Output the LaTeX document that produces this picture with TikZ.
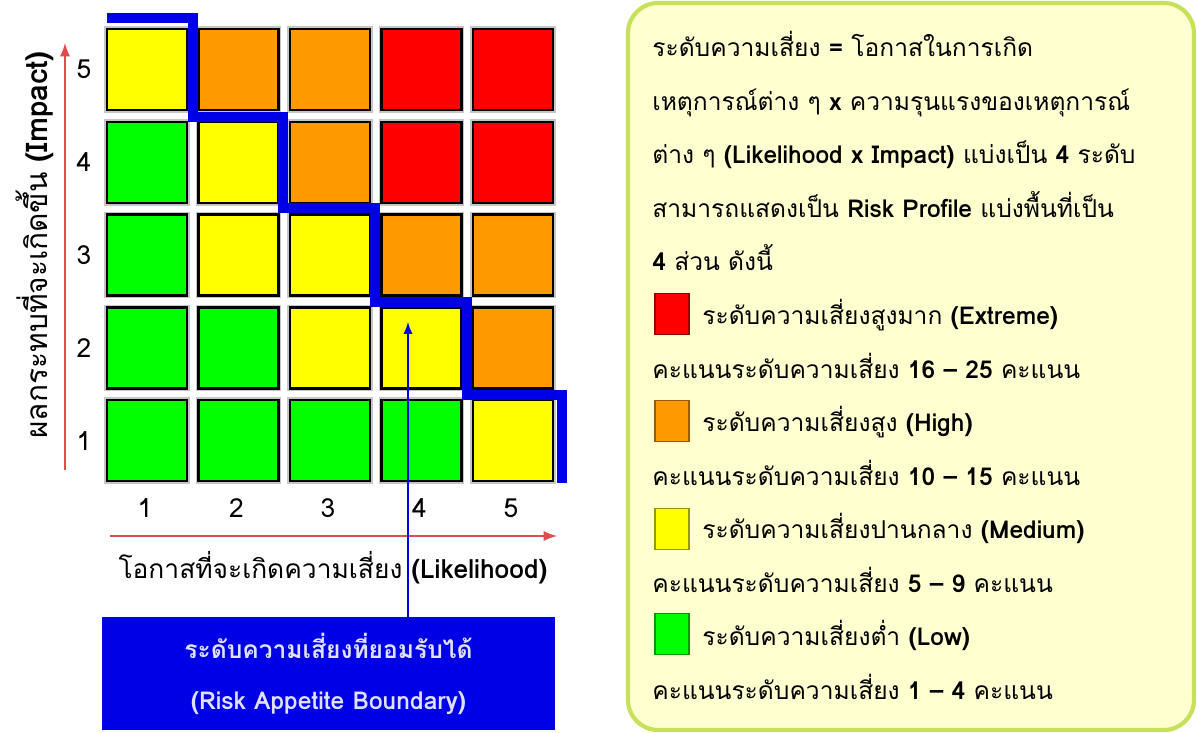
\documentclass[tikz,border=0pt]{standalone}
\usepackage{fontspec}
\newfontfamily\thfont[Script=Thai]{Loma}
\usetikzlibrary{positioning}

\definecolor{rgreen}{RGB}{0,255,0}
\definecolor{ryellow}{RGB}{255,255,0}
\definecolor{rorange}{RGB}{255,153,0}
\definecolor{rred}{RGB}{255,0,0}
\definecolor{bblue}{RGB}{0,0,230}
\definecolor{axred}{RGB}{225,75,75}
\definecolor{panelfill}{RGB}{255,255,208}
\definecolor{panelline}{RGB}{200,225,90}

\newcommand{\latb}[1]{{\bfseries #1}}

\tikzset{
  cell/.style={fill=#1, draw=black, line width=1.3pt, minimum width=1.6cm,
    minimum height=1.62cm, inner sep=0pt,
    preaction={draw=gray!45, line width=3.2pt}},
  legsq/.style={fill=#1, draw=#1!60!black, line width=1pt,
    minimum width=0.68cm, minimum height=0.82cm, inner sep=0pt},
  axis/.style={-latex, axred, line width=1.6pt},
  num/.style={font=\thfont\fontsize{15}{18}\selectfont, inner sep=0pt},
  ptxt/.style={font=\thfont\fontsize{14}{17}\selectfont, anchor=base west, inner sep=0pt},
}

\begin{document}
\begin{tikzpicture}[x=0.02cm,y=-0.02cm]
\useasboundingbox (0,0) rectangle (1197,733);

% risk matrix, rows by impact
\foreach \row/\cols in {5/{ryellow,rorange,rorange,rred,rred},
                        4/{rgreen,ryellow,rorange,rred,rred},
                        3/{rgreen,ryellow,ryellow,rorange,rorange},
                        2/{rgreen,rgreen,ryellow,ryellow,rorange},
                        1/{rgreen,rgreen,rgreen,rgreen,ryellow}}
  \foreach \c [count=\col] in \cols
    \node[cell=\c] (c\col\row) at ({147+(\col-1)*91.5},{69.5+(5-\row)*92.8}) {};

% axes
\coordinate (yfoot) at (65,470);
\coordinate (ytop) at (65,43);
\coordinate (xfoot) at (110,536);
\coordinate (xend) at (557,536);
\draw[axis] (yfoot) -- (ytop);
\draw[axis] (xfoot) -- (xend);
\foreach \i in {1,...,5} {
  \node[num] (ynum\i) at (84,{69.5+(5-\i)*92.8}) {\i};
  \node[num] (xnum\i) at ({145+(\i-1)*91.5},508) {\i};
}
\node[num, rotate=90, font=\thfont\fontsize{17}{20}\selectfont] (ytitle) at (35,245)
  {ผลกระทบที่จะเกิดขึ้น \latb{(Impact)}};
\node[num] (xtitle) at (333,568) {โอกาสที่จะเกิดความเสี่ยง \latb{(Likelihood)}};

% appetite boundary
\draw[bblue, line width=0.2cm] (107,18) -| (193,117) -| (283,208) -| (375,302)
  -| (467,395) -| (562,483);
\node[fill=bblue, minimum width=9.06cm, minimum height=2.26cm, align=center,
  text=blue!12!white, font=\thfont\bfseries\fontsize{14}{29}\selectfont]
  (boundary) at (328.5,673.5) {ระดับความเสี่ยงที่ยอมรับได้\\(Risk Appetite Boundary)};
\coordinate (tip) at (408,322);
\draw[-latex, bblue, line width=1.3pt] (boundary.north -| tip) -- (tip);

% legend panel
\draw[panelline, fill=panelfill, line width=2.4pt, rounded corners=0.6cm]
  (628,3) rectangle (1194,730);
\node[ptxt] (p1) at (652,57) {ระดับความเสี่ยง \latb{=} โอกาสในการเกิด};
\node[ptxt] (p2) at (652,110.5) {เหตุการณ์ต่าง ๆ \latb{x} ความรุนแรงของเหตุการณ์};
\node[ptxt] (p3) at (652,164) {ต่าง ๆ \latb{(Likelihood x Impact)} แบ่งเป็น \latb{4} ระดับ};
\node[ptxt] (p4) at (652,217.5) {สามารถแสดงเป็น \latb{Risk Profile} แบ่งพื้นที่เป็น};
\node[ptxt] (p5) at (652,271) {\latb{4} ส่วน ดังนี้};

\node[legsq=rred] (sqE) at (672,314) {};
\node[ptxt] (tE) at (702,324.5) {ระดับความเสี่ยงสูงมาก \latb{(Extreme)}};
\node[ptxt] (sE) at (652,378) {คะแนนระดับความเสี่ยง \latb{16 – 25} คะแนน};
\node[legsq=rorange] (sqH) at (672,421) {};
\node[ptxt] (tH) at (702,431.5) {ระดับความเสี่ยงสูง \latb{(High)}};
\node[ptxt] (sH) at (652,485) {คะแนนระดับความเสี่ยง \latb{10 – 15} คะแนน};
\node[legsq=ryellow] (sqM) at (672,529) {};
\node[ptxt] (tM) at (702,538.5) {ระดับความเสี่ยงปานกลาง \latb{(Medium)}};
\node[ptxt] (sM) at (652,592) {คะแนนระดับความเสี่ยง \latb{5 – 9} คะแนน};
\node[legsq=rgreen] (sqL) at (672,634) {};
\node[ptxt] (tL) at (702,645.5) {ระดับความเสี่ยงต่ำ \latb{(Low)}};
\node[ptxt] (sL) at (652,699) {คะแนนระดับความเสี่ยง \latb{1 – 4} คะแนน};
\end{tikzpicture}
\end{document}
